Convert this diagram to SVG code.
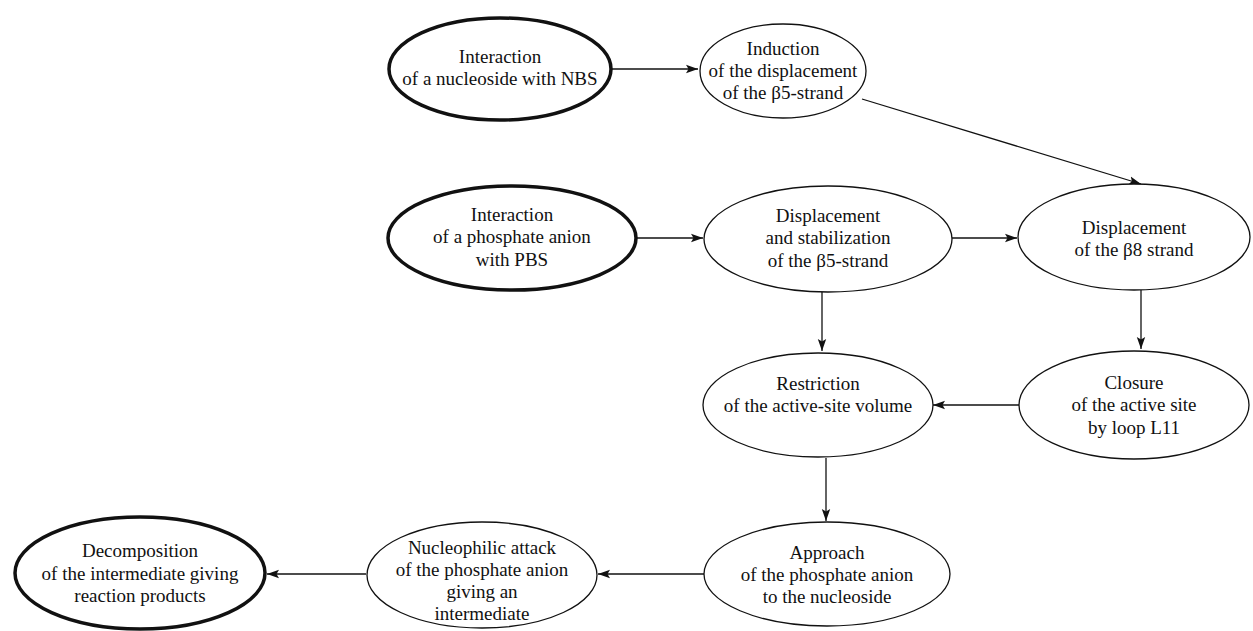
<svg xmlns="http://www.w3.org/2000/svg" width="1253" height="631" viewBox="0 0 1253 631">
<defs>
<marker id="ah" markerWidth="13" markerHeight="10" refX="12" refY="5" orient="auto" markerUnits="userSpaceOnUse">
<path d="M0,0.8 L12,5 L0,9.2 L2.5,5 Z" fill="#111"/>
</marker>
</defs>
<style>
.n{fill:#fff;stroke:#111;stroke-width:1.3}
.b{fill:#fff;stroke:#111;stroke-width:3.5}
text{font-family:"Liberation Serif","Times New Roman",serif;font-size:19px;fill:#111;text-anchor:middle}
.c line{stroke:#111;stroke-width:1.3;marker-end:url(#ah)}
</style>
<rect width="1253" height="631" fill="#fff"/>
<g class="c" id="connectors">
<line x1="612" y1="69" x2="698" y2="69"/>
<line x1="862" y1="99" x2="1141" y2="184"/>
<line x1="637" y1="238" x2="703" y2="238"/>
<line x1="952" y1="238" x2="1017" y2="238"/>
<line x1="822" y1="292" x2="822" y2="351"/>
<line x1="1141" y1="290" x2="1141" y2="349"/>
<line x1="1019" y1="405" x2="933" y2="405"/>
<line x1="826" y1="458" x2="826" y2="521"/>
<line x1="704" y1="574" x2="598" y2="574"/>
<line x1="366" y1="574" x2="267" y2="574"/>
</g>
<g id="n1"><ellipse class="b" cx="500" cy="69" rx="111" ry="51"/>
<text x="500" y="63">Interaction</text><text x="500" y="85">of a nucleoside with NBS</text></g>
<g id="n2"><ellipse class="n" cx="783" cy="71" rx="83" ry="47"/>
<text x="783" y="55">Induction</text><text x="783" y="77">of the displacement</text><text x="783" y="99">of the β5-strand</text></g>
<g id="n3"><ellipse class="b" cx="512" cy="238" rx="124" ry="52"/>
<text x="512" y="221">Interaction</text><text x="512" y="243">of a phosphate anion</text><text x="512" y="266">with PBS</text></g>
<g id="n4"><ellipse class="n" cx="828" cy="239" rx="124" ry="53"/>
<text x="828" y="222">Displacement</text><text x="828" y="244">and stabilization</text><text x="828" y="267">of the β5-strand</text></g>
<g id="n5"><ellipse class="n" cx="1134" cy="237" rx="116" ry="53"/>
<text x="1134" y="234">Displacement</text><text x="1134" y="256">of the β8 strand</text></g>
<g id="n6"><ellipse class="n" cx="818" cy="405" rx="115" ry="52"/>
<text x="818" y="390">Restriction</text><text x="818" y="412">of the active-site volume</text></g>
<g id="n7"><ellipse class="n" cx="1134" cy="405" rx="115" ry="54"/>
<text x="1134" y="389">Closure</text><text x="1134" y="411">of the active site</text><text x="1134" y="434">by loop L11</text></g>
<g id="n8"><ellipse class="n" cx="827" cy="574" rx="123" ry="52"/>
<text x="827" y="559">Approach</text><text x="827" y="581">of the phosphate anion</text><text x="827" y="603">to the nucleoside</text></g>
<g id="n9"><ellipse class="n" cx="482" cy="575" rx="115" ry="53"/>
<text x="482" y="554">Nucleophilic attack</text><text x="482" y="576">of the phosphate anion</text><text x="482" y="598">giving an</text><text x="482" y="620">intermediate</text></g>
<g id="n10"><ellipse class="b" cx="140" cy="573" rx="125" ry="56"/>
<text x="140" y="557">Decomposition</text><text x="140" y="580">of the intermediate giving</text><text x="140" y="602">reaction products</text></g>
</svg>
